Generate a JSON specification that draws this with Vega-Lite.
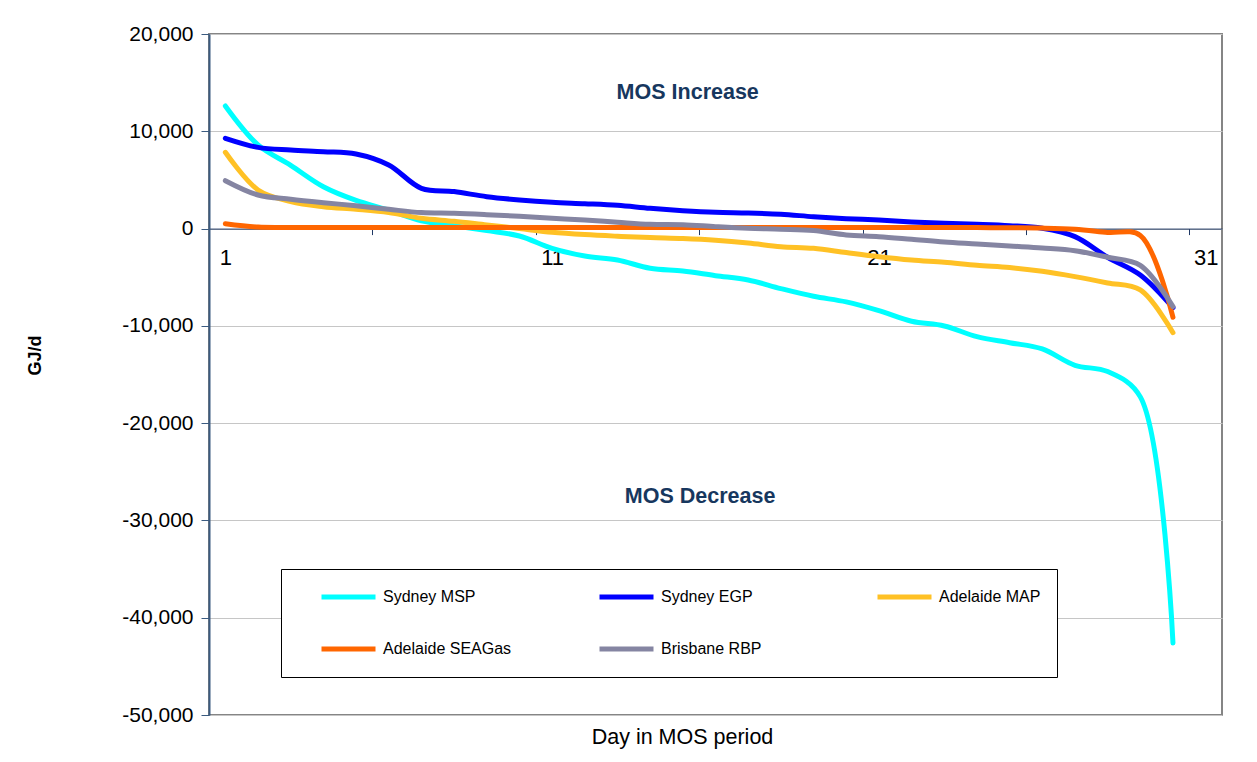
{
  "$schema": "https://vega.github.io/schema/vega-lite/v6.json",
  "width": 1013,
  "height": 681,
  "autosize": {"type": "none"},
  "padding": {"left": 209, "top": 34, "right": 35, "bottom": 47},
  "background": "white",
  "title": {
    "text": "Day in MOS period",
    "orient": "bottom",
    "anchor": "middle",
    "frame": "group",
    "font": "Liberation Sans",
    "fontSize": 21.5,
    "fontWeight": "normal",
    "color": "black",
    "offset": 2,
    "dx": -33
  },
  "config": {
    "view": {"stroke": "#858585", "strokeWidth": 2},
    "axis": {"labelFont": "Liberation Sans", "titleFont": "Liberation Sans", "labelColor": "black", "titleColor": "black"}
  },
  "data": {
    "values": [
      {"series": "Sydney MSP", "day": 1, "value": 12600},
      {"series": "Sydney MSP", "day": 2, "value": 8600},
      {"series": "Sydney MSP", "day": 3, "value": 6500},
      {"series": "Sydney MSP", "day": 4, "value": 4300},
      {"series": "Sydney MSP", "day": 5, "value": 2900},
      {"series": "Sydney MSP", "day": 6, "value": 1900},
      {"series": "Sydney MSP", "day": 7, "value": 800},
      {"series": "Sydney MSP", "day": 8, "value": 300},
      {"series": "Sydney MSP", "day": 9, "value": -200},
      {"series": "Sydney MSP", "day": 10, "value": -760},
      {"series": "Sydney MSP", "day": 11, "value": -2030},
      {"series": "Sydney MSP", "day": 12, "value": -2820},
      {"series": "Sydney MSP", "day": 13, "value": -3230},
      {"series": "Sydney MSP", "day": 14, "value": -4080},
      {"series": "Sydney MSP", "day": 15, "value": -4360},
      {"series": "Sydney MSP", "day": 16, "value": -4840},
      {"series": "Sydney MSP", "day": 17, "value": -5280},
      {"series": "Sydney MSP", "day": 18, "value": -6170},
      {"series": "Sydney MSP", "day": 19, "value": -6960},
      {"series": "Sydney MSP", "day": 20, "value": -7540},
      {"series": "Sydney MSP", "day": 21, "value": -8440},
      {"series": "Sydney MSP", "day": 22, "value": -9530},
      {"series": "Sydney MSP", "day": 23, "value": -10010},
      {"series": "Sydney MSP", "day": 24, "value": -11110},
      {"series": "Sydney MSP", "day": 25, "value": -11730},
      {"series": "Sydney MSP", "day": 26, "value": -12370},
      {"series": "Sydney MSP", "day": 27, "value": -14050},
      {"series": "Sydney MSP", "day": 28, "value": -14700},
      {"series": "Sydney MSP", "day": 29, "value": -17300},
      {"series": "Sydney MSP", "day": 30, "value": -42600},
      {"series": "Sydney EGP", "day": 1, "value": 9280},
      {"series": "Sydney EGP", "day": 2, "value": 8350},
      {"series": "Sydney EGP", "day": 3, "value": 8080},
      {"series": "Sydney EGP", "day": 4, "value": 7900},
      {"series": "Sydney EGP", "day": 5, "value": 7670},
      {"series": "Sydney EGP", "day": 6, "value": 6540},
      {"series": "Sydney EGP", "day": 7, "value": 4140},
      {"series": "Sydney EGP", "day": 8, "value": 3800},
      {"series": "Sydney EGP", "day": 9, "value": 3280},
      {"series": "Sydney EGP", "day": 10, "value": 2940},
      {"series": "Sydney EGP", "day": 11, "value": 2700},
      {"series": "Sydney EGP", "day": 12, "value": 2560},
      {"series": "Sydney EGP", "day": 13, "value": 2390},
      {"series": "Sydney EGP", "day": 14, "value": 2080},
      {"series": "Sydney EGP", "day": 15, "value": 1840},
      {"series": "Sydney EGP", "day": 16, "value": 1670},
      {"series": "Sydney EGP", "day": 17, "value": 1600},
      {"series": "Sydney EGP", "day": 18, "value": 1470},
      {"series": "Sydney EGP", "day": 19, "value": 1220},
      {"series": "Sydney EGP", "day": 20, "value": 1020},
      {"series": "Sydney EGP", "day": 21, "value": 880},
      {"series": "Sydney EGP", "day": 22, "value": 680},
      {"series": "Sydney EGP", "day": 23, "value": 540},
      {"series": "Sydney EGP", "day": 24, "value": 440},
      {"series": "Sydney EGP", "day": 25, "value": 300},
      {"series": "Sydney EGP", "day": 26, "value": 30},
      {"series": "Sydney EGP", "day": 27, "value": -830},
      {"series": "Sydney EGP", "day": 28, "value": -2950},
      {"series": "Sydney EGP", "day": 29, "value": -4770},
      {"series": "Sydney EGP", "day": 30, "value": -8130},
      {"series": "Adelaide MAP", "day": 1, "value": 7840},
      {"series": "Adelaide MAP", "day": 2, "value": 3970},
      {"series": "Adelaide MAP", "day": 3, "value": 2770},
      {"series": "Adelaide MAP", "day": 4, "value": 2250},
      {"series": "Adelaide MAP", "day": 5, "value": 1980},
      {"series": "Adelaide MAP", "day": 6, "value": 1640},
      {"series": "Adelaide MAP", "day": 7, "value": 1060},
      {"series": "Adelaide MAP", "day": 8, "value": 750},
      {"series": "Adelaide MAP", "day": 9, "value": 370},
      {"series": "Adelaide MAP", "day": 10, "value": 0},
      {"series": "Adelaide MAP", "day": 11, "value": -380},
      {"series": "Adelaide MAP", "day": 12, "value": -620},
      {"series": "Adelaide MAP", "day": 13, "value": -790},
      {"series": "Adelaide MAP", "day": 14, "value": -930},
      {"series": "Adelaide MAP", "day": 15, "value": -1030},
      {"series": "Adelaide MAP", "day": 16, "value": -1200},
      {"series": "Adelaide MAP", "day": 17, "value": -1480},
      {"series": "Adelaide MAP", "day": 18, "value": -1860},
      {"series": "Adelaide MAP", "day": 19, "value": -2030},
      {"series": "Adelaide MAP", "day": 20, "value": -2470},
      {"series": "Adelaide MAP", "day": 21, "value": -2890},
      {"series": "Adelaide MAP", "day": 22, "value": -3230},
      {"series": "Adelaide MAP", "day": 23, "value": -3470},
      {"series": "Adelaide MAP", "day": 24, "value": -3780},
      {"series": "Adelaide MAP", "day": 25, "value": -4010},
      {"series": "Adelaide MAP", "day": 26, "value": -4390},
      {"series": "Adelaide MAP", "day": 27, "value": -4940},
      {"series": "Adelaide MAP", "day": 28, "value": -5590},
      {"series": "Adelaide MAP", "day": 29, "value": -6310},
      {"series": "Adelaide MAP", "day": 30, "value": -10700},
      {"series": "Adelaide SEAGas", "day": 1, "value": 500},
      {"series": "Adelaide SEAGas", "day": 2, "value": 150},
      {"series": "Adelaide SEAGas", "day": 3, "value": 120},
      {"series": "Adelaide SEAGas", "day": 4, "value": 120},
      {"series": "Adelaide SEAGas", "day": 5, "value": 120},
      {"series": "Adelaide SEAGas", "day": 6, "value": 120},
      {"series": "Adelaide SEAGas", "day": 7, "value": 120},
      {"series": "Adelaide SEAGas", "day": 8, "value": 120},
      {"series": "Adelaide SEAGas", "day": 9, "value": 120},
      {"series": "Adelaide SEAGas", "day": 10, "value": 120},
      {"series": "Adelaide SEAGas", "day": 11, "value": 120},
      {"series": "Adelaide SEAGas", "day": 12, "value": 120},
      {"series": "Adelaide SEAGas", "day": 13, "value": 120},
      {"series": "Adelaide SEAGas", "day": 14, "value": 110},
      {"series": "Adelaide SEAGas", "day": 15, "value": 110},
      {"series": "Adelaide SEAGas", "day": 16, "value": 100},
      {"series": "Adelaide SEAGas", "day": 17, "value": 100},
      {"series": "Adelaide SEAGas", "day": 18, "value": 100},
      {"series": "Adelaide SEAGas", "day": 19, "value": 100},
      {"series": "Adelaide SEAGas", "day": 20, "value": 100},
      {"series": "Adelaide SEAGas", "day": 21, "value": 100},
      {"series": "Adelaide SEAGas", "day": 22, "value": 100},
      {"series": "Adelaide SEAGas", "day": 23, "value": 100},
      {"series": "Adelaide SEAGas", "day": 24, "value": 100},
      {"series": "Adelaide SEAGas", "day": 25, "value": 80},
      {"series": "Adelaide SEAGas", "day": 26, "value": 50},
      {"series": "Adelaide SEAGas", "day": 27, "value": -70},
      {"series": "Adelaide SEAGas", "day": 28, "value": -400},
      {"series": "Adelaide SEAGas", "day": 29, "value": -700},
      {"series": "Adelaide SEAGas", "day": 30, "value": -9120},
      {"series": "Brisbane RBP", "day": 1, "value": 4920},
      {"series": "Brisbane RBP", "day": 2, "value": 3450},
      {"series": "Brisbane RBP", "day": 3, "value": 3010},
      {"series": "Brisbane RBP", "day": 4, "value": 2660},
      {"series": "Brisbane RBP", "day": 5, "value": 2350},
      {"series": "Brisbane RBP", "day": 6, "value": 1980},
      {"series": "Brisbane RBP", "day": 7, "value": 1640},
      {"series": "Brisbane RBP", "day": 8, "value": 1570},
      {"series": "Brisbane RBP", "day": 9, "value": 1430},
      {"series": "Brisbane RBP", "day": 10, "value": 1260},
      {"series": "Brisbane RBP", "day": 11, "value": 1060},
      {"series": "Brisbane RBP", "day": 12, "value": 880},
      {"series": "Brisbane RBP", "day": 13, "value": 650},
      {"series": "Brisbane RBP", "day": 14, "value": 440},
      {"series": "Brisbane RBP", "day": 15, "value": 400},
      {"series": "Brisbane RBP", "day": 16, "value": 200},
      {"series": "Brisbane RBP", "day": 17, "value": 30},
      {"series": "Brisbane RBP", "day": 18, "value": -70},
      {"series": "Brisbane RBP", "day": 19, "value": -210},
      {"series": "Brisbane RBP", "day": 20, "value": -660},
      {"series": "Brisbane RBP", "day": 21, "value": -830},
      {"series": "Brisbane RBP", "day": 22, "value": -1100},
      {"series": "Brisbane RBP", "day": 23, "value": -1380},
      {"series": "Brisbane RBP", "day": 24, "value": -1580},
      {"series": "Brisbane RBP", "day": 25, "value": -1790},
      {"series": "Brisbane RBP", "day": 26, "value": -1990},
      {"series": "Brisbane RBP", "day": 27, "value": -2270},
      {"series": "Brisbane RBP", "day": 28, "value": -2950},
      {"series": "Brisbane RBP", "day": 29, "value": -3780},
      {"series": "Brisbane RBP", "day": 30, "value": -8020}
    ]
  },
  "layer": [
    {
      "mark": {"type": "line", "strokeWidth": 5, "interpolate": "catmull-rom", "strokeCap": "round", "strokeJoin": "round"},
      "encoding": {
        "x": {
          "field": "day", "type": "quantitative",
          "scale": {"domain": [0.5, 31.5], "nice": false, "zero": false},
          "axis": {
            "orient": "bottom", "offset": -486.4, "values": [1, 11, 21, 31],
            "ticks": false, "grid": false, "domain": true, "domainColor": "#1F3864", "domainWidth": 1,
            "labelFontSize": 22, "labelPadding": 19, "labelColor": "black", "title": null, "labelFlush": false
          }
        },
        "y": {
          "field": "value", "type": "quantitative",
          "scale": {"domain": [-50000, 20000], "nice": false, "zero": false},
          "axis": {
            "values": [-50000, -40000, -30000, -20000, -10000, 0, 10000, 20000],
            "format": ",d", "labelExpr": "replace(datum.label, '\u2212', '-')",
            "grid": true, "gridColor": "#c6c6c6", "gridWidth": 1,
            "domainColor": "#3B5B80", "domainWidth": 2, "tickColor": "#3B5B80", "tickSize": 8, "tickWidth": 1,
            "labelFontSize": 21, "labelPadding": 8,
            "title": "GJ/d", "titleFontSize": 18, "titleFontWeight": "bold",
            "titleX": -174, "titleY": 321, "titleAngle": -90, "titleAlign": "center", "titleBaseline": "middle"
          }
        },
        "color": {
          "field": "series", "type": "nominal",
          "scale": {
            "domain": ["Sydney MSP", "Sydney EGP", "Adelaide MAP", "Adelaide SEAGas", "Brisbane RBP"],
            "range": ["#00FFFF", "#0000FF", "#FFC125", "#FF6600", "#8585A2"]
          },
          "legend": {
            "orient": "none", "legendX": 72, "legendY": 535, "columns": 3, "direction": "horizontal", "title": null,
            "symbolType": "stroke", "symbolSize": 2916, "symbolStrokeWidth": 5, "symbolOffset": 22,
            "clipHeight": 24,
            "labelFont": "Liberation Sans", "labelFontSize": 16, "labelColor": "black", "labelOffset": 5,
            "padding": 16, "columnPadding": 63, "rowPadding": 28, "gridAlign": "all",
            "fillColor": "white", "strokeColor": "black"
          }
        }
      }
    },
    {
      "data": {"values": [{}]},
      "mark": {"type": "text", "font": "Liberation Sans", "fontSize": 21.5, "fontWeight": "bold", "color": "#17375E", "align": "center", "baseline": "middle"},
      "encoding": {
        "text": {"value": "MOS Increase"},
        "x": {
          "datum": 15.15, "type": "quantitative",
          "axis": {
            "orient": "bottom", "offset": -486.4, "values": [5.5, 10.5, 15.5, 20.5, 25.5, 30.5],
            "labels": false, "domain": false, "ticks": true, "tickSize": 6, "tickColor": "#1F3864", "grid": false, "title": null
          }
        },
        "y": {"datum": 13935, "type": "quantitative", "axis": null}
      }
    },
    {
      "data": {"values": [{}]},
      "mark": {"type": "text", "font": "Liberation Sans", "fontSize": 21.5, "fontWeight": "bold", "color": "#17375E", "align": "center", "baseline": "middle"},
      "encoding": {
        "text": {"value": "MOS Decrease"},
        "x": {"datum": 15.53, "type": "quantitative", "axis": null},
        "y": {"datum": -27580, "type": "quantitative", "axis": null}
      }
    }
  ],
  "resolve": {"axis": {"x": "independent", "y": "independent"}}
}
